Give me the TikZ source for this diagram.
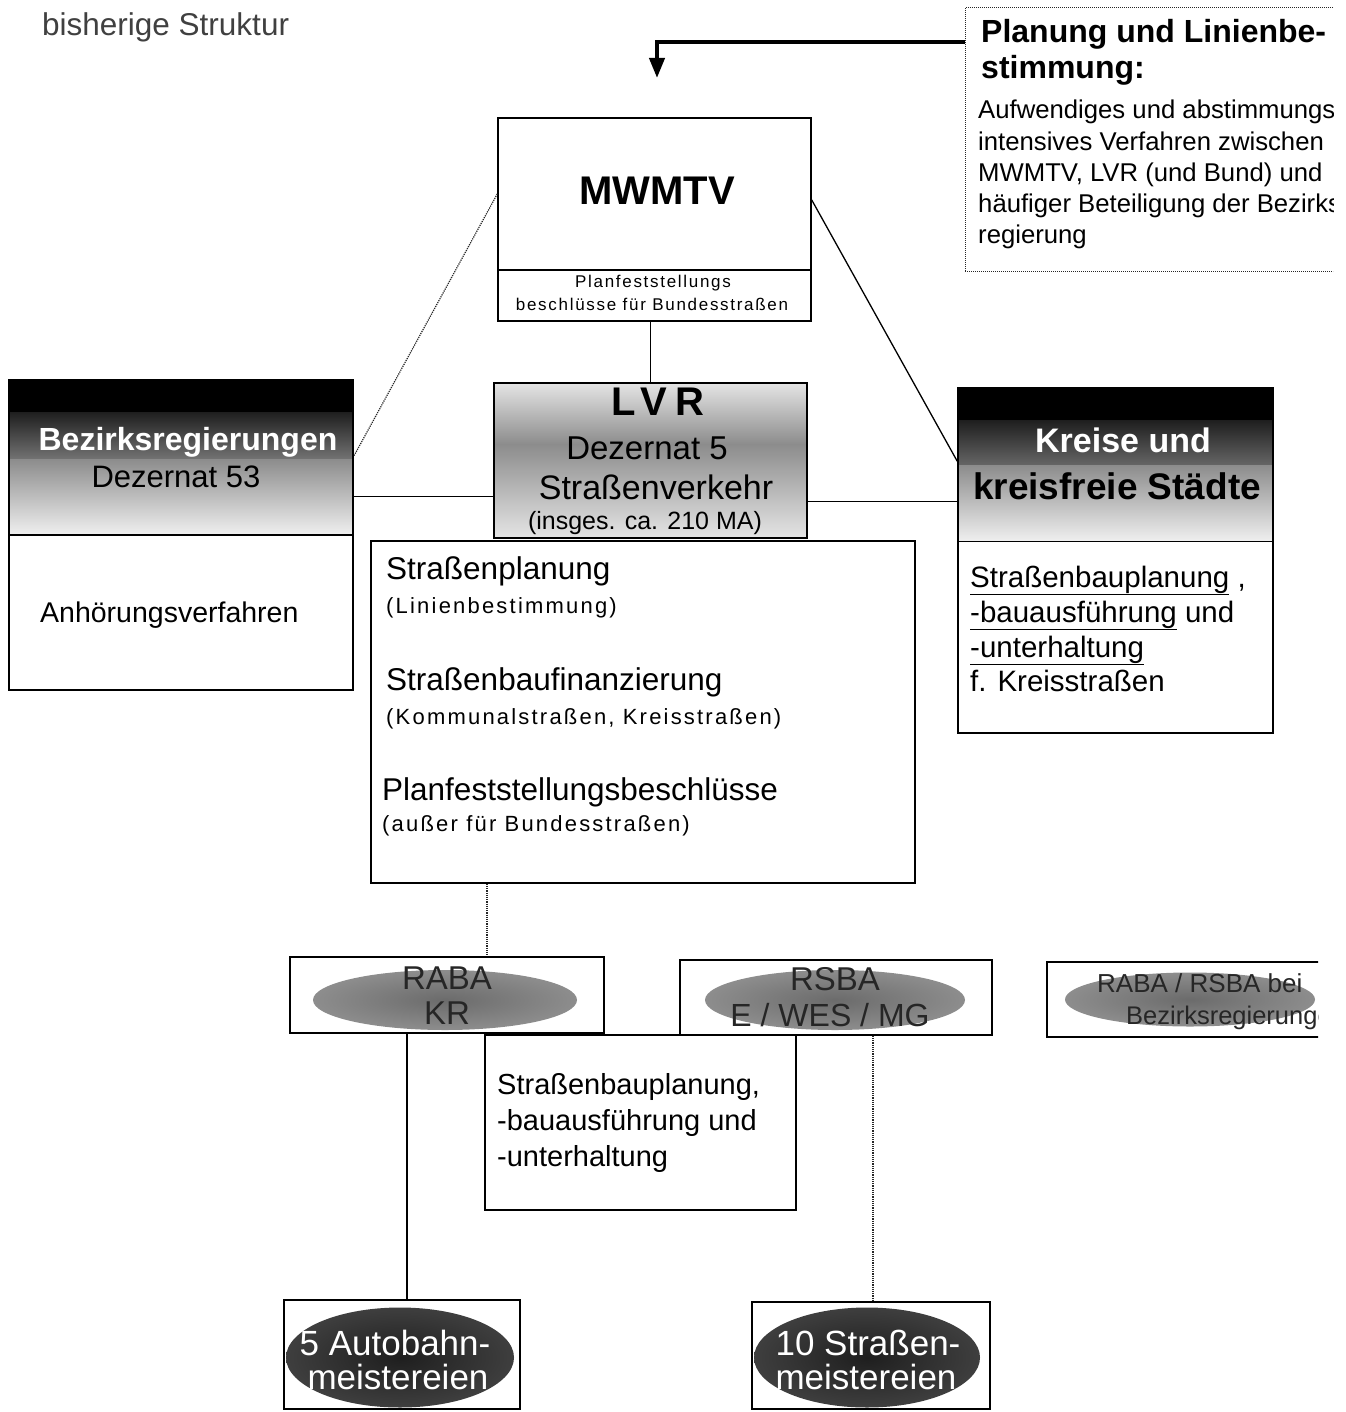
\documentclass[tikz,border=0pt]{standalone}
\usepackage{fontspec}
\setmainfont{Liberation Sans}
\newfontfamily\spfont[LetterSpace=10]{Liberation Sans}
\newfontfamily\lvrfont[LetterSpace=20]{Liberation Sans}
\usetikzlibrary{arrows.meta,backgrounds}
\newcommand\fsz[1]{\fontsize{#1}{#1}\selectfont}
\pgfdeclareradialshading{ellA}{\pgfpointorigin}{color(0bp)=(black!58); color(30bp)=(black!42); color(50bp)=(black!18)}
\pgfdeclareradialshading{ellB}{\pgfpointorigin}{color(0bp)=(black!88); color(32bp)=(black!72); color(50bp)=(black!50)}
\begin{document}
\begin{tikzpicture}[x=1pt,y=-1pt,
  box/.style={draw=black, line width=1.5pt, inner sep=0pt},
  thinbox/.style={draw=black!85, line width=1pt, densely dotted, inner sep=0pt},
  txt/.style={inner sep=0pt, anchor=base west, text=black},
  ctr/.style={inner sep=0pt, anchor=base, text=black},
  link/.style={line width=1.3pt, draw=black},
  dotlink/.style={line width=1.2pt, draw=black!85, densely dotted}
]
\useasboundingbox (0,0) rectangle (1345,1412);

% title
\node[txt, text=black!75, font=\fsz{31.5}] (title) at (42,36) {bisherige Struktur};

% MWMTV
\node[box, minimum width=313pt, minimum height=152pt] (mw) at (654.5,194) {};
\node[box, minimum width=313pt, minimum height=51pt] (mwb) at (654.5,295.5) {};
\node[ctr, font=\bfseries\fsz{40}] (mwT) at (657,205) {MWMTV};
\node[ctr, font=\spfont\fsz{17}] (mwb1) at (653,288) {Planfeststellungs};
\node[ctr, font=\spfont\fsz{17}] (mwb2) at (652,311) {beschlüsse für Bundesstraßen};

% Planung box
\begin{scope}
\clip (950,0) rectangle (1333,290);
\node[thinbox, minimum width=379pt, minimum height=264pt] (plan) at (1154.5,140) {};
\node[txt, font=\bfseries\fsz{32}] (pl1) at (981,43) {Planung und Linienbe-};
\node[txt, font=\bfseries\fsz{32}] (pl2) at (981,79) {stimmung:};
\node[txt, font=\fsz{25.7}] (pl3) at (978,119) {Aufwendiges und abstimmungs};
\node[txt, font=\fsz{25.7}] (pl4) at (978,151) {intensives Verfahren zwischen};
\node[txt, font=\fsz{25.7}] (pl5) at (978,182) {MWMTV, LVR (und Bund) und};
\node[txt, font=\fsz{25.7}] (pl6) at (978,213) {häufiger Beteiligung der Bezirks};
\node[txt, font=\fsz{25.7}] (pl7) at (978,244) {regierung};
\end{scope}

% Bezirksregierungen
\node[box, minimum width=344pt, minimum height=310pt] (bez) at (181,535) {};
\draw[link] (bez.west) -- (bez.east);
\node[ctr, text=white, font=\bfseries\fsz{32}] (bezT) at (188,450) {Bezirksregierungen};
\node[ctr, font=\fsz{31}] (bezD) at (176,487) {Dezernat 53};
\node[txt, font=\fsz{28.5}] (bezA) at (40,622) {Anhörungsverfahren};

% LVR
\node[box, minimum width=313pt, minimum height=155pt] (lvr) at (650.5,460.5) {};
\node[ctr, font=\lvrfont\bfseries\fsz{40}] (lvrT) at (658,415) {LVR};
\node[ctr, font=\fsz{33}] (lvrD) at (647,459) {Dezernat 5};
\node[ctr, font=\fsz{34}] (lvrS) at (656,499) {Straßenverkehr};
\node[ctr, font=\fsz{25}] (lvrM) at (645,529) {(insges. ca. 210 MA)};

% Kreise
\node[box, minimum width=315pt, minimum height=345pt] (kr) at (1115.5,560.5) {};
\draw[link] ([yshift=-154pt]kr.north west) -- ([yshift=-154pt]kr.north east);
\node[ctr, text=white, font=\bfseries\fsz{34}] (krT) at (1123,452) {Kreise und};
\node[ctr, font=\bfseries\fsz{37}] (krS) at (1117,499) {kreisfreie Städte};
\node[txt, font=\fsz{29.5}] (kr1) at (970,587) {\underline{Straßenbauplanung} ,};
\node[txt, font=\fsz{29.5}] (kr2) at (970,622) {\underline{-bauausführung} und};
\node[txt, font=\fsz{29.5}] (kr3) at (970,657) {\underline{-unterhaltung}};
\node[txt, font=\fsz{29.5}] (kr4) at (970,691) {f. Kreisstraßen};

% Strassenplanung box
\node[box, minimum width=544pt, minimum height=342pt] (sp) at (643,712) {};
\node[txt, font=\fsz{31.5}] (sp1) at (386,579) {Straßenplanung};
\node[txt, font=\spfont\fsz{22}] (sp2) at (386,613) {(Linienbestimmung)};
\node[txt, font=\fsz{31.5}] (sp3) at (386,690) {Straßenbaufinanzierung};
\node[txt, font=\spfont\fsz{22}] (sp4) at (386,724) {(Kommunalstraßen, Kreisstraßen)};
\node[txt, font=\fsz{31.5}] (sp5) at (382,800) {Planfeststellungsbeschlüsse};
\node[txt, font=\spfont\fsz{22}] (sp6) at (382,831) {(außer für Bundesstraßen)};

% RABA / RSBA
\node[box, minimum width=314pt, minimum height=76pt] (raba) at (447,995) {};
\node[ctr, text=black!85, font=\fsz{33}] (ra1) at (447,989) {RABA};
\node[ctr, text=black!85, font=\fsz{33}] (ra2) at (447,1024) {KR};
\node[box, minimum width=312pt, minimum height=75pt] (rsba) at (836,997.5) {};
\node[ctr, text=black!85, font=\fsz{33}] (rs1) at (835,990) {RSBA};
\node[ctr, text=black!85, font=\fsz{32}] (rs2) at (830,1026) {E / WES / MG};
\begin{scope}
\clip (1030,940) rectangle (1318,1050);
\node[box, minimum width=297pt, minimum height=75pt] (rr) at (1195.5,999.5) {};
\node[txt, text=black!85, font=\fsz{26}] (rr1) at (1097,992) {RABA / RSBA bei};
\node[txt, text=black!85, font=\fsz{25.5}] (rr2) at (1126,1024) {Bezirksregierungen};
\end{scope}

% Strassenbauplanung box
\node[box, minimum width=311pt, minimum height=175pt] (sbp) at (640.5,1122.5) {};
\node[txt, font=\fsz{29}] (sb1) at (497,1094) {Straßenbauplanung,};
\node[txt, font=\fsz{29}] (sb2) at (497,1130) {-bauausführung und};
\node[txt, font=\fsz{29}] (sb3) at (497,1166) {-unterhaltung};

% Meistereien
\node[box, minimum width=236pt, minimum height=109pt] (am) at (402,1354.5) {};
\node[ctr, text=white, font=\fsz{35}] (am1) at (395,1355) {5 Autobahn-};
\node[ctr, text=white, font=\fsz{35}] (am2) at (398,1389) {meistereien};
\node[box, minimum width=238pt, minimum height=107pt] (sm) at (871,1355.5) {};
\node[ctr, text=white, font=\fsz{35}] (sm1) at (868,1355) {10 Straßen-};
\node[ctr, text=white, font=\fsz{35}] (sm2) at (866,1389) {meistereien};

% backgrounds
\begin{scope}[on background layer]
 \fill[black] (bez.north west) rectangle ([yshift=-33pt]bez.north east);
 \shade[top color=black!88, bottom color=black!55] ([yshift=-33pt]bez.north west) rectangle ([yshift=-80pt]bez.north east);
 \shade[top color=black!45, bottom color=black!6] ([yshift=-80pt]bez.north west) rectangle (bez.east);
 \shade[top color=black!10, bottom color=black!45] (lvr.north west) rectangle ([yshift=-62pt]lvr.north east);
 \shade[top color=black!45, bottom color=black!10] ([yshift=-62pt]lvr.north west) rectangle (lvr.south east);
 \fill[black] (kr.north west) rectangle ([yshift=-33pt]kr.north east);
 \shade[top color=black!88, bottom color=black!60] ([yshift=-33pt]kr.north west) rectangle ([yshift=-78pt]kr.north east);
 \shade[top color=black!45, bottom color=black!6] ([yshift=-78pt]kr.north west) rectangle ([yshift=-154pt]kr.north east);
 \shade[shading=ellA] ([xshift=-2pt,yshift=-5pt]raba.center) ellipse [x radius=132pt, y radius=30pt];
 \shade[shading=ellA] ([xshift=-1pt,yshift=-2.5pt]rsba.center) ellipse [x radius=130pt, y radius=30pt];
 \begin{scope}
  \clip (1030,940) rectangle (1318,1050);
  \shade[shading=ellA] ([xshift=-5.5pt]rr.center) ellipse [x radius=125pt, y radius=27pt];
 \end{scope}
 \shade[shading=ellB] ([xshift=-2pt,yshift=-3pt]am.center) ellipse [x radius=114pt, y radius=50pt];
 \shade[shading=ellB] ([xshift=-4pt,yshift=-2pt]sm.center) ellipse [x radius=113pt, y radius=50pt];
\end{scope}

% connectors
\coordinate (y42) at (0,42);
\coordinate (arrS) at (plan.west |- y42);
\coordinate (arrE) at (657,78);
\draw[line width=4pt, -{Triangle[length=20pt,width=15pt]}] (arrS) -| (arrE);
\draw[link] (lvr.north |- mwb.south) -- (lvr.north);
\draw[dotlink] (mw.west) -- ([yshift=-77pt]bez.north east);
\draw[link] ([yshift=-6pt]mw.east) -- ([yshift=-74pt]kr.north west);
\coordinate (lvrL) at ([yshift=-114pt]lvr.north west);
\coordinate (lvrR) at ([yshift=-119pt]lvr.north east);
\draw[link] (bez.east |- lvrL) -- (lvrL);
\draw[link] (lvrR) -- (kr.west |- lvrR);
\coordinate (rabaT) at ([xshift=40pt]raba.north);
\draw[dotlink] (rabaT |- sp.south) -- (rabaT);
\coordinate (amT) at ([xshift=5pt]am.north);
\draw[link] (amT |- raba.south) -- (amT);
\coordinate (smT) at ([xshift=2pt]sm.north);
\draw[dotlink] (smT |- rsba.south) -- (smT);
\end{tikzpicture}
\end{document}
